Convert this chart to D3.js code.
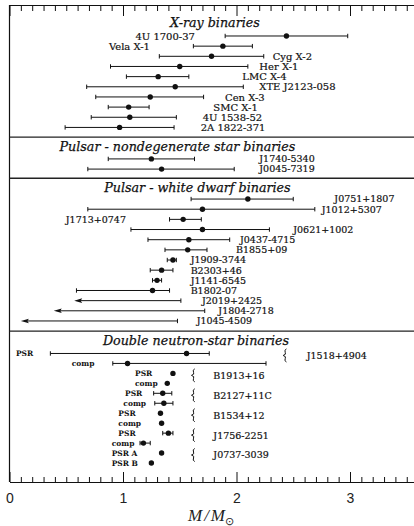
<!DOCTYPE html>
<html><head><meta charset="utf-8">
<script src="https://cdn.jsdelivr.net/npm/d3@7"></script>
<style>
  body { margin: 0; background: #fff; }
  svg { display: block; }
</style>
</head><body>
<svg id="chart" width="414" height="526"></svg>
<script>
// ---- Neutron-star masses (solar masses) ----

// X-ray binaries
const xrayNames = ["4U 1700-37", "Vela X-1", "Cyg X-2", "Her X-1", "LMC X-4",
  "XTE J2123-058", "Cen X-3", "SMC X-1", "4U 1538-52", "2A 1822-371"];
const xrayMass = [2.44, 1.88, 1.78, 1.50, 1.31, 1.46, 1.24, 1.05, 1.06, 0.97];
const xrayLow  = [1.90, 1.62, 1.32, 0.89, 1.03, 0.68, 0.76, 0.87, 0.72, 0.49];
const xrayHigh = [2.98, 2.14, 2.24, 2.10, 1.58, 2.06, 1.71, 1.23, 1.47, 1.45];

// Pulsar - nondegenerate star binaries
const pndNames = ["J1740-5340", "J0045-7319"];
const pndMass = [1.25, 1.34];
const pndLow  = [0.87, 0.69];
const pndHigh = [1.63, 1.98];

// Pulsar - white dwarf binaries (null mass = upper limit only)
const pwdNames = ["J0751+1807", "J1012+5307", "J1713+0747", "J0621+1002", "J0437-4715",
  "B1855+09", "J1909-3744", "B2303+46", "J1141-6545", "B1802-07",
  "J2019+2425", "J1804-2718", "J1045-4509"];
const pwdMass = [2.10, 1.70, 1.53, 1.70, 1.58, 1.57, 1.44, 1.34, 1.30, 1.26, null, null, null];
const pwdLow  = [1.60, 0.69, 1.41, 1.07, 1.22, 1.37, 1.39, 1.24, 1.26, 0.59, 0.57, 0.39, 0.10];
const pwdHigh = [2.50, 2.69, 1.69, 2.29, 1.94, 1.74, 1.47, 1.44, 1.34, 1.41, 1.51, 1.72, 1.48];

// Double neutron-star binaries
const dnsSystems = ["J1518+4904", "B1913+16", "B2127+11C", "B1534+12", "J1756-2251", "J0737-3039"];
const dnsRoles = ["PSR", "comp", "PSR", "comp", "PSR", "comp", "PSR", "comp", "PSR", "comp", "PSR A", "PSR B"];
const dnsSystemOf = [0, 0, 1, 1, 2, 2, 3, 3, 4, 4, 5, 5];
const dnsMass = [1.56, 1.04, 1.44, 1.39, 1.35, 1.36, 1.33, 1.34, 1.40, 1.18, 1.34, 1.25];
const dnsLow  = [0.36, 0.91, null, null, 1.27, 1.28, null, null, 1.35, 1.15, null, null];
const dnsHigh = [1.76, 2.26, null, null, 1.43, 1.44, null, null, 1.44, 1.24, null, null];

const sectionTitles = ["X-ray binaries", "Pulsar - nondegenerate star binaries",
  "Pulsar - white dwarf binaries", "Double neutron-star binaries"];
const majorTicks = [0, 1, 2, 3];

// ---- Layout: where labels sit, in mass units along the axis ----
const xrayLabelAt = [1.634, 1.238, 2.319, 2.201, 2.051, 2.201, 1.899, 1.796, 1.702, 1.685];
const xrayLabelEnd = [true, true, false, false, false, false, false, false, false, false];
const pndLabelAt = [2.201, 2.201];
const pwdLabelAt = [2.862, 2.751, 1.026, 2.50, 2.031, 1.996, 1.596, 1.596, 1.596, 1.596, 1.696, 1.84, 1.649];
const pwdLabelEnd = [false, false, true, false, false, false, false, false, false, false, false, false, false];
const dnsRoleAt = [0.057, 0.548, 1.106, 1.106, 1.018, 1.003, 0.959, 0.959, 0.959, 0.90, 0.90, 0.90];
const dnsBraceAt = [2.427, 1.619, 1.619, 1.619, 1.619, 1.619];
const dnsNameAt = [2.619, 1.796, 1.796, 1.796, 1.796, 1.796];
const titleAt = [1.81, 1.48, 1.656, 1.643];

// Vertical slots (one slot = one row)
const titleSlot = [-1.35, 10.85, 14.9, 29.95];
const separatorSlot = [9.95, 14.0, 29.05];
const xraySlot = i => i;
const pndSlot = i => 12.1 + i;
const pwdSlot = i => 16.05 + i;
const dnsSlot = i => 31.25 + i * 0.98;

const W = 414, H = 526;
const svg = d3.select("#chart");

const x = d3.scaleLinear().domain([0, 3.6]).range([9.5, 418.1]);
const y = d3.scaleLinear().domain([-3.05, 43.9]).range([5, 482]);
const frameTop = y.range()[0], frameBottom = y.range()[1];

const ink = "#111";
const labelFont = "'DejaVu Serif', serif";

// Frame and section separators
const frame = svg.append("g");
frame.append("line")
  .attr("x1", x(0)).attr("x2", x(0)).attr("y1", frameTop).attr("y2", frameBottom)
  .attr("stroke", ink).attr("stroke-width", 1.2);
frame.selectAll("line.sep").data(separatorSlot).join("line")
  .attr("class", "sep")
  .attr("x1", x(0)).attr("x2", W)
  .attr("y1", d => y(d)).attr("y2", d => y(d))
  .attr("stroke", "#222").attr("stroke-width", 1.4);

// Axes: minor ticks every 0.1, major every 1, on top and bottom
const minorTicks = d3.range(0, 36).map(d => d / 10).filter(d => Math.abs(d - Math.round(d)) > 1e-6);

function styleAxis(g) {
  g.selectAll("path.domain").attr("stroke", ink).attr("stroke-width", 1.2);
  g.selectAll(".tick line").attr("stroke", ink).attr("stroke-width", 1);
}

svg.append("g").attr("transform", `translate(0,${frameBottom})`)
  .call(d3.axisBottom(x).tickValues(minorTicks).tickSize(-5).tickSizeOuter(0).tickFormat(""))
  .call(styleAxis);
svg.append("g").attr("transform", `translate(0,${frameBottom})`)
  .call(d3.axisBottom(x).tickValues(majorTicks).tickSize(-10).tickSizeOuter(0).tickPadding(11)
    .tickFormat(d3.format("d")))
  .call(styleAxis)
  .call(g => g.selectAll("text")
    .attr("fill", "#222").attr("font-size", 14)
    .attr("font-family", "'Liberation Sans', Arial, sans-serif"));
svg.append("g").attr("transform", `translate(0,${frameTop})`)
  .call(d3.axisTop(x).tickValues(minorTicks).tickSize(-6).tickSizeOuter(0).tickFormat(""))
  .call(styleAxis);
svg.append("g").attr("transform", `translate(0,${frameTop})`)
  .call(d3.axisTop(x).tickValues(majorTicks).tickSize(-11).tickSizeOuter(0).tickFormat(""))
  .call(styleAxis);

// Axis title M/M_sun
const axisTitle = svg.append("text")
  .attr("x", 211).attr("y", 521)
  .attr("text-anchor", "middle")
  .attr("font-family", "'Liberation Serif', serif")
  .attr("font-style", "italic")
  .attr("font-size", 17)
  .attr("fill", "#222");
axisTitle.append("tspan").text("M");
axisTitle.append("tspan").attr("dx", 2).text("/");
axisTitle.append("tspan").attr("dx", 2).text("M");
axisTitle.append("tspan").attr("font-size", 11).attr("font-style", "normal")
  .attr("dy", 4).text("⊙");

// Section titles
svg.selectAll("text.section").data(sectionTitles).join("text")
  .attr("class", "section")
  .attr("x", (d, i) => x(titleAt[i]))
  .attr("y", (d, i) => y(titleSlot[i]))
  .attr("dy", "0.35em")
  .attr("text-anchor", "middle")
  .attr("font-family", labelFont)
  .attr("font-style", "italic")
  .attr("font-size", 12.7)
  .attr("fill", ink)
  .attr("stroke", ink).attr("stroke-width", 0.25)
  .text(d => d);

// Error bars with end caps, optional point, optional upper-limit arrow
const marks = svg.append("g");
const capH = 2.2;

function drawRow(gy, mass, lo, hi) {
  const g = marks.append("g");
  if (lo != null && hi != null) {
    const isLimit = mass == null;
    const x0 = isLimit ? x(lo) + 6 : x(lo);
    g.append("line").attr("x1", x0).attr("x2", x(hi)).attr("y1", gy).attr("y2", gy)
      .attr("stroke", ink).attr("stroke-width", 1);
    g.append("line").attr("x1", x(hi)).attr("x2", x(hi)).attr("y1", gy - capH).attr("y2", gy + capH)
      .attr("stroke", ink).attr("stroke-width", 1);
    if (isLimit) {
      const t = x(lo);
      g.append("path")
        .attr("d", `M${t},${gy} L${t + 8},${gy - 2.3} L${t + 6.5},${gy} L${t + 8},${gy + 2.3} Z`)
        .attr("fill", ink);
    } else {
      g.append("line").attr("x1", x(lo)).attr("x2", x(lo)).attr("y1", gy - capH).attr("y2", gy + capH)
        .attr("stroke", ink).attr("stroke-width", 1);
    }
  }
  if (mass != null) {
    g.append("circle").attr("cx", x(mass)).attr("cy", gy).attr("r", 2.7).attr("fill", ink);
  }
}

function drawLabel(text, gx, gy, end, size, weight) {
  svg.append("text")
    .attr("x", gx).attr("y", gy).attr("dy", "0.36em")
    .attr("text-anchor", end ? "end" : "start")
    .attr("font-family", labelFont)
    .attr("font-size", size)
    .attr("font-weight", weight || "normal")
    .attr("fill", ink)
    .attr("stroke", weight ? "none" : ink).attr("stroke-width", 0.2)
    .text(text);
}

xrayNames.forEach((n, i) => {
  drawRow(y(xraySlot(i)), xrayMass[i], xrayLow[i], xrayHigh[i]);
  drawLabel(n, x(xrayLabelAt[i]), y(xraySlot(i)), xrayLabelEnd[i], 10);
});
pndNames.forEach((n, i) => {
  drawRow(y(pndSlot(i)), pndMass[i], pndLow[i], pndHigh[i]);
  drawLabel(n, x(pndLabelAt[i]), y(pndSlot(i)), false, 9.5);
});
pwdNames.forEach((n, i) => {
  drawRow(y(pwdSlot(i)), pwdMass[i], pwdLow[i], pwdHigh[i]);
  drawLabel(n, x(pwdLabelAt[i]), y(pwdSlot(i)), pwdLabelEnd[i], 9.5);
});

dnsRoles.forEach((r, i) => {
  drawRow(y(dnsSlot(i)), dnsMass[i], dnsLow[i], dnsHigh[i]);
  drawLabel(r, x(dnsRoleAt[i]), y(dnsSlot(i)), false, 7.5, "bold");
});

// Brace and name for each double neutron-star system
dnsSystems.forEach((s, k) => {
  const rows = dnsSystemOf.map((v, i) => v === k ? i : -1).filter(i => i >= 0);
  const cy = (y(dnsSlot(rows[0])) + y(dnsSlot(rows[rows.length - 1]))) / 2 - 3;
  const bx = x(dnsBraceAt[k]);
  const t = cy - 6.5, b = cy + 6.5;
  svg.append("path")
    .attr("d", `M${bx + 1.5},${t} Q${bx - 1},${t + 1} ${bx + 0.3},${cy - 3} Q${bx + 1.6},${cy - 1} ${bx - 1.8},${cy}` +
               ` Q${bx + 1.6},${cy + 1} ${bx + 0.3},${cy + 3} Q${bx - 1},${b - 1} ${bx + 1.5},${b}`)
    .attr("fill", "none").attr("stroke", ink).attr("stroke-width", 1);
  drawLabel(s, x(dnsNameAt[k]), cy, false, 9.5);
});
</script>
</body></html>
